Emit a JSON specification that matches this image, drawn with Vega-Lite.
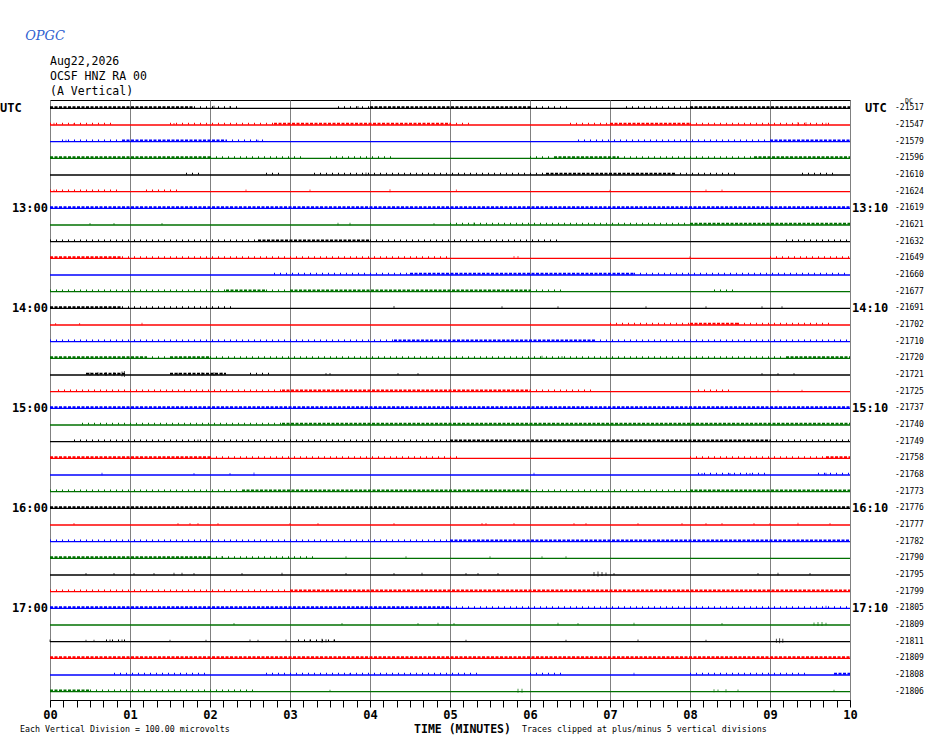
{
  "$schema": "https://vega.github.io/schema/vega-lite/v6.json",
  "width": 800,
  "height": 600,
  "autosize": {"type": "none"},
  "padding": {"left": 50, "top": 100, "right": 80, "bottom": 44},
  "background": "white",
  "config": {
    "font": "DejaVu Sans Mono",
    "view": {"stroke": "#000000", "strokeWidth": 1}
  },
  "resolve": {"axis": {"x": "independent", "y": "independent"}},
  "datasets": {
    "rows": [
      {"r":0,"dc":"-21517"},{"r":1,"dc":"-21547"},{"r":2,"dc":"-21579"},{"r":3,"dc":"-21596"},
      {"r":4,"dc":"-21610"},{"r":5,"dc":"-21624"},{"r":6,"dc":"-21619"},{"r":7,"dc":"-21621"},
      {"r":8,"dc":"-21632"},{"r":9,"dc":"-21649"},{"r":10,"dc":"-21660"},{"r":11,"dc":"-21677"},
      {"r":12,"dc":"-21691"},{"r":13,"dc":"-21702"},{"r":14,"dc":"-21710"},{"r":15,"dc":"-21720"},
      {"r":16,"dc":"-21721"},{"r":17,"dc":"-21725"},{"r":18,"dc":"-21737"},{"r":19,"dc":"-21740"},
      {"r":20,"dc":"-21749"},{"r":21,"dc":"-21758"},{"r":22,"dc":"-21768"},{"r":23,"dc":"-21773"},
      {"r":24,"dc":"-21776"},{"r":25,"dc":"-21777"},{"r":26,"dc":"-21782"},{"r":27,"dc":"-21790"},
      {"r":28,"dc":"-21795"},{"r":29,"dc":"-21799"},{"r":30,"dc":"-21805"},{"r":31,"dc":"-21809"},
      {"r":32,"dc":"-21811"},{"r":33,"dc":"-21809"},{"r":34,"dc":"-21808"},{"r":35,"dc":"-21806"}
    ],
    "lab": [
      {"r":6,"lt":"13:00","rt":"13:10"},
      {"r":12,"lt":"14:00","rt":"14:10"},
      {"r":18,"lt":"15:00","rt":"15:10"},
      {"r":24,"lt":"16:00","rt":"16:10"},
      {"r":30,"lt":"17:00","rt":"17:10"}
    ],
    "seg": [
      {"r":0,"t0":0,"t1":1.8,"lv":2},{"r":0,"t0":1.8,"t1":2.4,"lv":1},{"r":0,"t0":3.6,"t1":4.0,"lv":1},{"r":0,"t0":4.0,"t1":6.0,"lv":2},{"r":0,"t0":6.0,"t1":6.5,"lv":1},{"r":0,"t0":7.2,"t1":8.0,"lv":1},{"r":0,"t0":8.0,"t1":10,"lv":2},
      {"r":1,"t0":0,"t1":0.8,"lv":1},{"r":1,"t0":1.5,"t1":2.8,"lv":1},{"r":1,"t0":2.8,"t1":5.0,"lv":2},{"r":1,"t0":5.0,"t1":5.3,"lv":1},{"r":1,"t0":6.5,"t1":7.0,"lv":1},{"r":1,"t0":7.0,"t1":8.0,"lv":2},{"r":1,"t0":8.0,"t1":9.8,"lv":1},
      {"r":2,"t0":0.15,"t1":0.9,"lv":1},{"r":2,"t0":0.9,"t1":2.2,"lv":2},{"r":2,"t0":2.2,"t1":2.7,"lv":1},{"r":2,"t0":6.6,"t1":9.0,"lv":1},{"r":2,"t0":9.0,"t1":10,"lv":2},
      {"r":3,"t0":0,"t1":2.0,"lv":2},{"r":3,"t0":2.0,"t1":3.2,"lv":1},{"r":3,"t0":3.5,"t1":4.3,"lv":1},{"r":3,"t0":6.0,"t1":6.3,"lv":1},{"r":3,"t0":6.3,"t1":7.1,"lv":2},{"r":3,"t0":7.1,"t1":8.8,"lv":1},{"r":3,"t0":8.8,"t1":10,"lv":2},
      {"r":4,"t0":1.7,"t1":1.9,"lv":1},{"r":4,"t0":2.7,"t1":2.9,"lv":1},{"r":4,"t0":3.3,"t1":6.2,"lv":1},{"r":4,"t0":6.2,"t1":7.8,"lv":2},{"r":4,"t0":7.8,"t1":8.6,"lv":1},{"r":4,"t0":9.4,"t1":9.8,"lv":1},
      {"r":5,"t0":0,"t1":0.9,"lv":1},{"r":5,"t0":1.2,"t1":1.65,"lv":1},
      {"r":6,"t0":0,"t1":10,"lv":2},
      {"r":7,"t0":5.0,"t1":8.0,"lv":1},{"r":7,"t0":8.0,"t1":10,"lv":2},
      {"r":8,"t0":0,"t1":2.6,"lv":1},{"r":8,"t0":2.6,"t1":4.0,"lv":2},{"r":8,"t0":4.0,"t1":6.4,"lv":1},{"r":8,"t0":9.2,"t1":10,"lv":1},
      {"r":9,"t0":0,"t1":0.9,"lv":2},{"r":9,"t0":0.9,"t1":5.0,"lv":1},{"r":9,"t0":9.0,"t1":10,"lv":1},
      {"r":10,"t0":2.8,"t1":4.5,"lv":1},{"r":10,"t0":4.5,"t1":7.3,"lv":2},{"r":10,"t0":7.3,"t1":10,"lv":1},
      {"r":11,"t0":0,"t1":2.2,"lv":1},{"r":11,"t0":2.2,"t1":2.7,"lv":2},{"r":11,"t0":2.7,"t1":3.0,"lv":1},{"r":11,"t0":3.0,"t1":6.0,"lv":2},{"r":11,"t0":6.0,"t1":6.4,"lv":1},{"r":11,"t0":8.3,"t1":8.6,"lv":1},
      {"r":12,"t0":0,"t1":0.9,"lv":2},{"r":12,"t0":0.9,"t1":2.3,"lv":1},
      {"r":13,"t0":7.0,"t1":8.0,"lv":1},{"r":13,"t0":8.0,"t1":8.6,"lv":2},{"r":13,"t0":8.6,"t1":9.8,"lv":1},
      {"r":14,"t0":0,"t1":4.3,"lv":1},{"r":14,"t0":4.3,"t1":6.8,"lv":2},{"r":14,"t0":6.8,"t1":10,"lv":1},
      {"r":15,"t0":0,"t1":1.2,"lv":2},{"r":15,"t0":1.2,"t1":1.5,"lv":1},{"r":15,"t0":1.5,"t1":2.0,"lv":2},{"r":15,"t0":2.0,"t1":9.2,"lv":1},{"r":15,"t0":9.2,"t1":10,"lv":2},
      {"r":16,"t0":0.45,"t1":0.95,"lv":2},{"r":16,"t0":1.5,"t1":2.2,"lv":2},{"r":16,"t0":2.5,"t1":2.8,"lv":1},
      {"r":17,"t0":0.1,"t1":2.9,"lv":1},{"r":17,"t0":2.9,"t1":6.0,"lv":2},{"r":17,"t0":6.0,"t1":6.8,"lv":1},{"r":17,"t0":8.1,"t1":8.5,"lv":1},
      {"r":18,"t0":0,"t1":10,"lv":2},
      {"r":19,"t0":0.4,"t1":2.9,"lv":1},{"r":19,"t0":2.9,"t1":10,"lv":2},
      {"r":20,"t0":0.3,"t1":5.0,"lv":1},{"r":20,"t0":5.0,"t1":9.0,"lv":2},{"r":20,"t0":9.0,"t1":10,"lv":1},
      {"r":21,"t0":0,"t1":2.0,"lv":2},{"r":21,"t0":2.0,"t1":5.1,"lv":1},{"r":21,"t0":8.0,"t1":9.7,"lv":1},{"r":21,"t0":9.7,"t1":10,"lv":2},
      {"r":22,"t0":8.1,"t1":9.0,"lv":1},{"r":22,"t0":9.6,"t1":10,"lv":1},
      {"r":23,"t0":0,"t1":2.4,"lv":1},{"r":23,"t0":2.4,"t1":6.0,"lv":2},{"r":23,"t0":6.0,"t1":8.0,"lv":1},{"r":23,"t0":8.0,"t1":10,"lv":2},
      {"r":24,"t0":0,"t1":10,"lv":2},
      {"r":26,"t0":0,"t1":5.0,"lv":1},{"r":26,"t0":5.0,"t1":10,"lv":2},
      {"r":27,"t0":0,"t1":2.0,"lv":2},{"r":27,"t0":2.0,"t1":3.3,"lv":1},
      {"r":29,"t0":0,"t1":3.0,"lv":1},{"r":29,"t0":3.0,"t1":10,"lv":2},
      {"r":30,"t0":0,"t1":5.0,"lv":2},{"r":30,"t0":5.0,"t1":10,"lv":1},
      {"r":32,"t0":0.7,"t1":0.95,"lv":1},{"r":32,"t0":3.1,"t1":3.6,"lv":1},
      {"r":33,"t0":0,"t1":10,"lv":2},
      {"r":34,"t0":0.8,"t1":2.0,"lv":1},{"r":34,"t0":2.7,"t1":5.4,"lv":1},{"r":34,"t0":6.0,"t1":6.4,"lv":1},{"r":34,"t0":8.0,"t1":9.5,"lv":1},{"r":34,"t0":9.8,"t1":10,"lv":2},
      {"r":35,"t0":0,"t1":0.5,"lv":2},{"r":35,"t0":0.5,"t1":2.6,"lv":1}
    ],
    "spk": [
      {"r":0,"t":2.05,"pp":20},{"r":0,"t":2.25,"pp":15},{"r":0,"t":3.85,"pp":15},
      {"r":1,"t":0.05,"pp":15},{"r":1,"t":0.3,"pp":12},{"r":1,"t":1.55,"pp":12},{"r":1,"t":3.05,"pp":12},{"r":1,"t":9.35,"pp":25},{"r":1,"t":9.45,"pp":20},{"r":1,"t":9.7,"pp":15},
      {"r":2,"t":0.2,"pp":12},{"r":2,"t":2.6,"pp":12},
      {"r":4,"t":3.95,"pp":18},{"r":4,"t":6.9,"pp":12},
      {"r":5,"t":0.05,"pp":12},{"r":5,"t":2.45,"pp":15},{"r":5,"t":3.25,"pp":15},{"r":5,"t":4.25,"pp":18},{"r":5,"t":5.08,"pp":15},{"r":5,"t":7.0,"pp":12},{"r":5,"t":8.2,"pp":15},{"r":5,"t":8.4,"pp":15},
      {"r":7,"t":0.5,"pp":12},{"r":7,"t":0.8,"pp":12},{"r":7,"t":1.4,"pp":12},{"r":7,"t":3.6,"pp":15},{"r":7,"t":3.75,"pp":15},{"r":7,"t":4.8,"pp":12},{"r":7,"t":5.3,"pp":18},
      {"r":9,"t":5.8,"pp":15},{"r":9,"t":5.85,"pp":15},{"r":9,"t":8.0,"pp":12},
      {"r":12,"t":4.3,"pp":15},{"r":12,"t":5.65,"pp":12},{"r":12,"t":6.35,"pp":12},{"r":12,"t":7.45,"pp":12},{"r":12,"t":8.2,"pp":12},{"r":12,"t":8.9,"pp":12},{"r":12,"t":9.15,"pp":12},
      {"r":13,"t":0.07,"pp":12},{"r":13,"t":0.37,"pp":12},{"r":13,"t":1.15,"pp":15},
      {"r":15,"t":6.15,"pp":18},{"r":15,"t":6.4,"pp":15},
      {"r":16,"t":0.5,"pp":18},{"r":16,"t":0.6,"pp":20},{"r":16,"t":0.7,"pp":25},{"r":16,"t":0.8,"pp":20},{"r":16,"t":0.85,"pp":15},{"r":16,"t":0.9,"pp":30},{"r":16,"t":0.93,"pp":36},{"r":16,"t":1.6,"pp":15},{"r":16,"t":1.75,"pp":15},{"r":16,"t":1.9,"pp":18},{"r":16,"t":2.05,"pp":20},{"r":16,"t":2.15,"pp":15},{"r":16,"t":3.45,"pp":12},{"r":16,"t":3.5,"pp":12},{"r":16,"t":4.35,"pp":12},{"r":16,"t":4.6,"pp":12},{"r":16,"t":8.9,"pp":12},{"r":16,"t":9.1,"pp":12},{"r":16,"t":9.3,"pp":12},
      {"r":17,"t":5.0,"pp":12},{"r":17,"t":9.1,"pp":12},{"r":17,"t":9.4,"pp":12},
      {"r":20,"t":1.85,"pp":15},
      {"r":22,"t":0.65,"pp":15},{"r":22,"t":1.8,"pp":12},{"r":22,"t":2.25,"pp":12},{"r":22,"t":2.55,"pp":18},{"r":22,"t":6.05,"pp":15},{"r":22,"t":8.15,"pp":12},{"r":22,"t":8.5,"pp":12},{"r":22,"t":8.75,"pp":12},{"r":22,"t":9.7,"pp":15},
      {"r":25,"t":0.3,"pp":12},{"r":25,"t":1.6,"pp":12},{"r":25,"t":1.75,"pp":12},{"r":25,"t":1.85,"pp":12},{"r":25,"t":2.1,"pp":12},{"r":25,"t":3.0,"pp":12},{"r":25,"t":3.35,"pp":12},{"r":25,"t":4.3,"pp":12},{"r":25,"t":5.4,"pp":12},{"r":25,"t":5.45,"pp":12},{"r":25,"t":5.8,"pp":12},{"r":25,"t":6.55,"pp":12},{"r":25,"t":6.7,"pp":12},{"r":25,"t":7.35,"pp":12},{"r":25,"t":7.9,"pp":12},{"r":25,"t":8.2,"pp":12},{"r":25,"t":8.4,"pp":12},{"r":25,"t":8.8,"pp":12},{"r":25,"t":9.0,"pp":12},{"r":25,"t":9.35,"pp":15},{"r":25,"t":9.75,"pp":12},
      {"r":27,"t":0.75,"pp":15},{"r":27,"t":2.15,"pp":15},{"r":27,"t":3.7,"pp":12},{"r":27,"t":4.45,"pp":12},{"r":27,"t":5.5,"pp":12},{"r":27,"t":6.15,"pp":12},{"r":27,"t":6.45,"pp":12},
      {"r":28,"t":0.45,"pp":12},{"r":28,"t":0.8,"pp":12},{"r":28,"t":1.05,"pp":12},{"r":28,"t":1.3,"pp":12},{"r":28,"t":1.55,"pp":15},{"r":28,"t":1.65,"pp":15},{"r":28,"t":1.8,"pp":12},{"r":28,"t":2.4,"pp":12},{"r":28,"t":2.9,"pp":15},{"r":28,"t":3.7,"pp":12},{"r":28,"t":4.3,"pp":12},{"r":28,"t":4.65,"pp":15},{"r":28,"t":5.2,"pp":12},{"r":28,"t":5.35,"pp":12},{"r":28,"t":5.6,"pp":12},{"r":28,"t":6.8,"pp":24},{"r":28,"t":6.85,"pp":30},{"r":28,"t":6.9,"pp":24},{"r":28,"t":6.95,"pp":18},{"r":28,"t":7.05,"pp":12},{"r":28,"t":8.85,"pp":12},{"r":28,"t":9.1,"pp":15},{"r":28,"t":9.5,"pp":12},
      {"r":30,"t":9.7,"pp":18},
      {"r":31,"t":2.3,"pp":12},{"r":31,"t":3.65,"pp":12},{"r":31,"t":4.6,"pp":12},{"r":31,"t":4.85,"pp":15},{"r":31,"t":5.05,"pp":12},{"r":31,"t":6.35,"pp":15},{"r":31,"t":6.6,"pp":12},{"r":31,"t":7.3,"pp":15},{"r":31,"t":8.4,"pp":12},{"r":31,"t":9.55,"pp":18},{"r":31,"t":9.6,"pp":24},{"r":31,"t":9.65,"pp":24},{"r":31,"t":9.7,"pp":15},
      {"r":32,"t":0.0,"pp":15},{"r":32,"t":0.45,"pp":12},{"r":32,"t":0.55,"pp":12},{"r":32,"t":0.75,"pp":15},{"r":32,"t":0.9,"pp":15},{"r":32,"t":1.5,"pp":12},{"r":32,"t":1.95,"pp":12},{"r":32,"t":2.5,"pp":15},{"r":32,"t":2.6,"pp":12},{"r":32,"t":2.95,"pp":15},{"r":32,"t":3.25,"pp":15},{"r":32,"t":3.4,"pp":24},{"r":32,"t":3.45,"pp":18},{"r":32,"t":3.55,"pp":15},{"r":32,"t":5.2,"pp":12},{"r":32,"t":6.45,"pp":12},{"r":32,"t":7.35,"pp":15},{"r":32,"t":8.2,"pp":12},{"r":32,"t":9.08,"pp":24},{"r":32,"t":9.12,"pp":30},{"r":32,"t":9.16,"pp":24},
      {"r":34,"t":3.75,"pp":12},{"r":34,"t":7.3,"pp":15},
      {"r":35,"t":3.5,"pp":12},{"r":35,"t":5.85,"pp":24},{"r":35,"t":5.9,"pp":24},{"r":35,"t":8.3,"pp":18},{"r":35,"t":8.35,"pp":15},{"r":35,"t":8.45,"pp":18},{"r":35,"t":8.6,"pp":15},{"r":35,"t":9.8,"pp":12}
    ]
  },
  "layer": [
    {
      "data": {"name": "rows"},
      "mark": {"type": "rule", "strokeWidth": 1.3},
      "encoding": {
        "x": {"datum": 0, "type": "quantitative", "scale": {"domain": [0, 10], "nice": false, "zero": false}, "axis": null},
        "x2": {"datum": 10},
        "y": {"field": "r", "type": "quantitative", "scale": {"domain": [-0.5, 35.5], "reverse": true, "nice": false, "zero": false}, "axis": null},
        "color": {
          "field": "r", "type": "ordinal",
          "scale": {"domain": [0,1,2,3,4,5,6,7,8,9,10,11,12,13,14,15,16,17,18,19,20,21,22,23,24,25,26,27,28,29,30,31,32,33,34,35], "range": ["#000000", "#ff0000", "#0000ff", "#007000"]},
          "legend": null
        }
      }
    },
    {
      "data": {"name": "seg"},
      "mark": {"type": "rule", "strokeWidth": 2, "yOffset": -1.2},
      "encoding": {
        "x": {
          "field": "t0",
          "type": "quantitative",
          "axis": {
            "title": "TIME (MINUTES)",
            "titleFont": "DejaVu Sans Mono",
            "titleFontSize": 11.5,
            "titleFontWeight": "bold",
            "titleColor": "#000000",
            "titleAnchor": null,
            "titleAlign": "center",
            "titleBaseline": "middle",
            "titleX": 412,
            "titleY": 29.5,
            "values": [0,0.1667,0.3333,0.5,0.6667,0.8333,1,1.1667,1.3333,1.5,1.6667,1.8333,2,2.1667,2.3333,2.5,2.6667,2.8333,3,3.1667,3.3333,3.5,3.6667,3.8333,4,4.1667,4.3333,4.5,4.6667,4.8333,5,5.1667,5.3333,5.5,5.6667,5.8333,6,6.1667,6.3333,6.5,6.6667,6.8333,7,7.1667,7.3333,7.5,7.6667,7.8333,8,8.1667,8.3333,8.5,8.6667,8.8333,9,9.1667,9.3333,9.5,9.6667,9.8333,10],
            "labelExpr": "abs(datum.value-round(datum.value))<0.001 ? (round(datum.value)<10 ? '0'+round(datum.value) : ''+round(datum.value)) : ''",
            "labelOverlap": false,
            "labelFlush": false,
            "labelFont": "DejaVu Sans Mono",
            "labelFontSize": 12,
            "labelFontWeight": "bold",
            "labelColor": "#000000",
            "labelPadding": 2,
            "ticks": true,
            "tickSize": 7,
            "tickColor": "#000000",
            "tickWidth": 1,
            "domainColor": "#000000",
            "domainWidth": 1,
            "grid": true,
            "gridColor": "#808080",
            "gridWidth": 1,
            "gridOpacity": {"condition": {"test": "abs(datum.value-round(datum.value))<0.001", "value": 1}, "value": 0}
          }
        },
        "x2": {"field": "t1"},
        "y": {"field": "r", "type": "quantitative", "axis": null},
        "color": {"field": "r", "type": "ordinal", "legend": null},
        "strokeDash": {"field": "lv", "type": "ordinal", "scale": {"domain": [1, 2], "range": [[1, 5], [3, 1.5]]}, "legend": null}
      }
    },
    {
      "data": {"name": "spk"},
      "mark": {"type": "tick", "orient": "vertical", "thickness": 1, "yOffset": -1},
      "encoding": {
        "x": {"field": "t", "type": "quantitative", "axis": null},
        "y": {"field": "r", "type": "quantitative", "axis": null},
        "size": {"field": "pp", "type": "quantitative", "scale": {"type": "linear", "domain": [0, 100], "range": [0, 16.667]}, "legend": null},
        "color": {"field": "r", "type": "ordinal", "legend": null}
      }
    },
    {
      "data": {"values": [{"r": -3.15, "txt": ["Aug22,2026", "OCSF HNZ RA 00", "(A Vertical)"]}]},
      "mark": {"type": "text", "align": "left", "baseline": "top", "font": "DejaVu Sans Mono", "fontSize": 11.5, "lineHeight": 15, "color": "#000000"},
      "encoding": {
        "x": {"datum": 0, "axis": null},
        "y": {"field": "r", "type": "quantitative", "axis": null},
        "text": {"field": "txt"}
      }
    },
    {
      "data": {"values": [{"r": 0, "txt": "UTC"}]},
      "mark": {"type": "text", "align": "left", "baseline": "middle", "font": "DejaVu Sans Mono", "fontSize": 12, "fontWeight": "bold", "color": "#000000"},
      "encoding": {
        "x": {"datum": -0.625, "axis": null},
        "y": {"field": "r", "type": "quantitative", "axis": null},
        "text": {"field": "txt"}
      }
    },
    {
      "data": {"name": "lab"},
      "mark": {"type": "text", "align": "right", "baseline": "middle", "font": "DejaVu Sans Mono", "fontSize": 12, "fontWeight": "bold", "color": "#000000"},
      "encoding": {
        "x": {"datum": -0.025, "axis": null},
        "y": {"field": "r", "type": "quantitative", "axis": null},
        "text": {"field": "lt"}
      }
    },
    {
      "data": {"values": [{"r": 0, "txt": "UTC"}]},
      "mark": {"type": "text", "align": "left", "baseline": "middle", "font": "DejaVu Sans Mono", "fontSize": 12, "fontWeight": "bold", "color": "#000000"},
      "encoding": {
        "x": {"datum": 10.1875, "axis": null},
        "y": {"field": "r", "type": "quantitative", "axis": null},
        "text": {"field": "txt"}
      }
    },
    {
      "data": {"name": "lab"},
      "mark": {"type": "text", "align": "left", "baseline": "middle", "font": "DejaVu Sans Mono", "fontSize": 12, "fontWeight": "bold", "color": "#000000"},
      "encoding": {
        "x": {"datum": 10.025, "axis": null},
        "y": {"field": "r", "type": "quantitative", "axis": null},
        "text": {"field": "rt"}
      }
    },
    {
      "data": {"name": "rows"},
      "mark": {"type": "text", "align": "left", "baseline": "middle", "font": "DejaVu Sans Mono", "fontSize": 8, "color": "#000000"},
      "encoding": {
        "x": {"datum": 10.5625, "axis": null},
        "y": {"field": "r", "type": "quantitative", "axis": null},
        "text": {"field": "dc"}
      }
    },
    {
      "data": {"values": [{"r": -0.45, "txt": "DC"}]},
      "mark": {"type": "text", "align": "left", "baseline": "middle", "font": "DejaVu Sans Mono", "fontSize": 6.5, "color": "#000000"},
      "encoding": {
        "x": {"datum": 10.6875, "axis": null},
        "y": {"field": "r", "type": "quantitative", "axis": null},
        "text": {"field": "txt"}
      }
    },
    {
      "data": {"values": [{"r": -4.34, "txt": "OPGC"}]},
      "mark": {"type": "text", "align": "center", "baseline": "middle", "font": "DejaVu Serif", "fontSize": 13, "fontStyle": "italic", "color": "#2f5fd0"},
      "encoding": {
        "x": {"datum": -0.0625, "axis": null},
        "y": {"field": "r", "type": "quantitative", "axis": null},
        "text": {"field": "txt"}
      }
    },
    {
      "data": {"values": [{"r": 37.3, "txt": "Each Vertical Division =  100.00 microvolts"}]},
      "mark": {"type": "text", "align": "left", "baseline": "middle", "font": "DejaVu Sans Mono", "fontSize": 8.3, "color": "#000000"},
      "encoding": {
        "x": {"datum": -0.375, "axis": null},
        "y": {"field": "r", "type": "quantitative", "axis": null},
        "text": {"field": "txt"}
      }
    },
    {
      "data": {"values": [{"r": 37.3, "txt": "Traces clipped at plus/minus 5 vertical divisions"}]},
      "mark": {"type": "text", "align": "left", "baseline": "middle", "font": "DejaVu Sans Mono", "fontSize": 8.3, "color": "#000000"},
      "encoding": {
        "x": {"datum": 5.9, "axis": null},
        "y": {"field": "r", "type": "quantitative", "axis": null},
        "text": {"field": "txt"}
      }
    }
  ]
}
